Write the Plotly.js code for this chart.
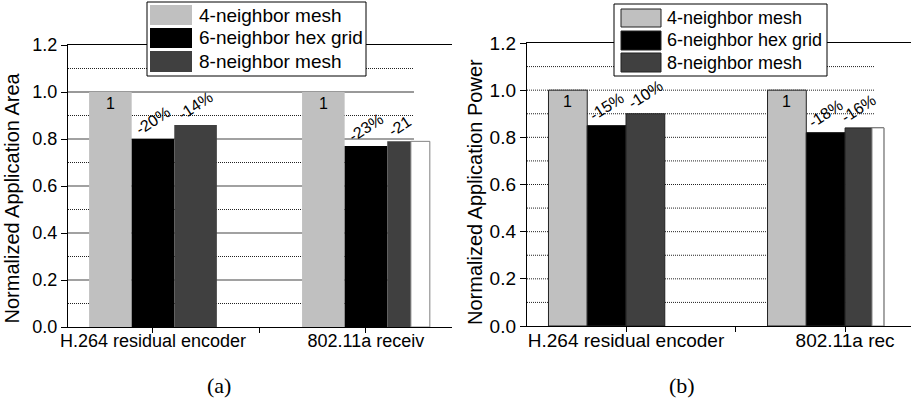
<!DOCTYPE html>
<html><head><meta charset="utf-8">
<script src="https://cdn.plot.ly/plotly-3.0.1.min.js"></script>
<style>html,body{margin:0;padding:0;background:#fff;} #chart{width:914px;height:401px;}</style>
</head><body><div id="chart"></div>
<script>
// ---- data ----
const categories = ['H.264 residual encoder', '802.11a receiver'];
const tickLabelsA = ['H.264 residual encoder', '802.11a receiv'];
const tickLabelsB = ['H.264 residual encoder', '802.11a rec'];
const seriesNames = ['4-neighbor mesh', '6-neighbor hex grid', '8-neighbor mesh'];
const seriesColors = ['#c0c0c0', '#000000', '#404040'];
const areaMesh4 = [1.0, 1.0];
const areaHex6 = [0.80, 0.77];
const areaMesh8 = [0.86, 0.79];
const powerMesh4 = [1.0, 1.0];
const powerHex6 = [0.85, 0.82];
const powerMesh8 = [0.90, 0.84];
const areaLabels4 = ['1', '1'];
const areaLabels6 = ['-20%', '-23%'];
const areaLabels8 = ['-14%', '-21'];
const powerLabels4 = ['1', '1'];
const powerLabels6 = ['-15%', '-18%'];
const powerLabels8 = ['-10%', '-16%'];
const yTickVals = [0, 0.2, 0.4, 0.6, 0.8, 1.0, 1.2];
const majorGrid = [0.2, 0.4, 0.6, 0.8];
const minorGrid = [0.1, 0.3, 0.5, 0.7, 0.9, 1.1];

// ---- layout helpers ----
const W = 914, H = 401;
const px = x => x / W;
const py = y => 1 - y / H;
const SANS = 'Liberation Sans, Arial, sans-serif';
const FINE_DOT = '1px,1px';
const xIdx = categories.map((c, i) => i);

const panels = [
  {xa: 'x', ya: 'y', series: [areaMesh4, areaHex6, areaMesh8], labels: [areaLabels4, areaLabels6, areaLabels8],
   offsets: [-0.3, -0.1, 0.1], width: 0.2, whiteStart: 0.211, line: 0, lineColor: '#000', whiteLine: '#888'},
  {xa: 'x2', ya: 'y2', series: [powerMesh4, powerHex6, powerMesh8], labels: [powerLabels4, powerLabels6, powerLabels8],
   offsets: [-0.354, -0.177, 0.0], width: 0.177, whiteStart: 0.123, line: 1, lineColor: '#222', whiteLine: '#888'}
];

const traces = [];
const annotations = [];
panels.forEach(p => {
  p.series.forEach((vals, s) => {
    traces.push({
      type: 'bar', x: xIdx, y: vals, xaxis: p.xa, yaxis: p.ya, name: seriesNames[s],
      offset: p.offsets[s], width: p.width, showlegend: false, hoverinfo: 'skip',
      marker: {color: seriesColors[s], line: {width: p.line, color: p.lineColor}}
    });
    vals.forEach((v, i) => {
      let cx = i + p.offsets[s] + p.width / 2;
      if (s === 2 && i === 1) cx = i + (p.offsets[s] + p.whiteStart) / 2;
      if (s === 0) {
        annotations.push({xref: p.xa, yref: p.ya, x: cx, y: v, text: p.labels[s][i], showarrow: false,
          xanchor: 'center', yanchor: 'top', yshift: -1, font: {family: SANS, size: 16, color: '#000'}});
      } else {
        annotations.push({xref: p.xa, yref: p.ya, x: cx, y: v, text: p.labels[s][i], showarrow: false,
          xanchor: 'center', yanchor: 'bottom', textangle: -33, yshift: -1, font: {family: SANS, size: 16, color: '#000'}});
      }
    });
  });
  // white overlay segment on the 2nd group's 8-neighbor bar
  const last = p.series[2];
  traces.push({
    type: 'bar', x: [xIdx[1]], y: [last[1]], xaxis: p.xa, yaxis: p.ya, showlegend: false, hoverinfo: 'skip',
    offset: p.whiteStart, width: p.offsets[2] + p.width - p.whiteStart,
    marker: {color: '#ffffff', line: {width: 1, color: p.whiteLine}}
  });
});

// ---- gridlines ----
const shapes = [];
majorGrid.forEach(g => shapes.push({type: 'line', layer: 'below', xref: 'x domain', yref: 'y', x0: 0, x1: 0.901, y0: g, y1: g,
  line: {color: '#444', width: 1.2}}));
shapes.push({type: 'line', layer: 'below', xref: 'x domain', yref: 'y', x0: 0, x1: 0.901, y0: 1.0, y1: 1.0,
  line: {color: '#999', width: 2}});
minorGrid.forEach(g => shapes.push({type: 'line', layer: 'below', xref: 'x domain', yref: 'y', x0: 0, x1: 0.901, y0: g, y1: g,
  line: {color: '#222', width: 1, dash: FINE_DOT}}));
majorGrid.concat([1.0]).concat(minorGrid).forEach(g => shapes.push({type: 'line', layer: 'below', xref: 'x2 domain', yref: 'y2', x0: 0, x1: 0.904, y0: g, y1: g,
  line: {color: '#222', width: 1, dash: FINE_DOT}}));

// ---- custom legends ----
const legends = [
  {box: [147, 2, 366, 76], sx: [150, 192], rows: [[5, 25], [28, 48], [51, 72]], tx: 197, fs: 19, border: 0},
  {box: [614, 4, 827, 76], sx: [621, 661], rows: [[9, 27], [31, 50], [53, 72]], tx: 665, fs: 18, border: 1}
];
legends.forEach(L => {
  shapes.push({type: 'rect', layer: 'above', xref: 'paper', yref: 'paper', x0: px(L.box[0]), x1: px(L.box[2]), y0: py(L.box[3]), y1: py(L.box[1]),
    fillcolor: '#fff', line: {color: '#000', width: 1}});
  L.rows.forEach((r, s) => {
    shapes.push({type: 'rect', layer: 'above', xref: 'paper', yref: 'paper', x0: px(L.sx[0]), x1: px(L.sx[1]), y0: py(r[1]), y1: py(r[0]),
      fillcolor: seriesColors[s], line: {color: '#222', width: L.border}});
    annotations.push({xref: 'paper', yref: 'paper', x: px(L.tx), y: py((r[0] + r[1]) / 2), text: seriesNames[s], showarrow: false,
      xanchor: 'left', yanchor: 'middle', font: {family: SANS, size: L.fs, color: '#000'}});
  });
});

// ---- y titles & captions ----
annotations.push({xref: 'paper', yref: 'paper', x: px(11), y: py(198.5), text: 'Normalized Application Area', textangle: -90,
  showarrow: false, xanchor: 'center', yanchor: 'middle', font: {family: SANS, size: 20, color: '#000'}});
annotations.push({xref: 'paper', yref: 'paper', x: px(475), y: py(192), text: 'Normalized Application Power', textangle: -90,
  showarrow: false, xanchor: 'center', yanchor: 'middle', font: {family: SANS, size: 20, color: '#000'}});
annotations.push({xref: 'paper', yref: 'paper', x: px(219), y: py(385), text: '(a)', showarrow: false,
  xanchor: 'center', yanchor: 'middle', font: {family: 'Liberation Serif, DejaVu Serif, serif', size: 22, color: '#000'}});
annotations.push({xref: 'paper', yref: 'paper', x: px(682), y: py(385), text: '(b)', showarrow: false,
  xanchor: 'center', yanchor: 'middle', font: {family: 'Liberation Serif, DejaVu Serif, serif', size: 22, color: '#000'}});

const yAxisBase = (dom, fs) => ({
  domain: dom, range: [0, 1.2], tickvals: yTickVals, ticktext: yTickVals.map(v => v.toFixed(1)),
  ticks: 'outside', ticklen: 6, tickcolor: '#000', showline: true, linecolor: '#000', linewidth: 1.2,
  showgrid: false, zeroline: false, tickfont: {family: SANS, size: fs, color: '#000'}, fixedrange: true
});
const xAxisBase = (dom, range, labels, fs, anchor) => ({
  domain: dom, range: range, tickvals: [0, 0.5, 1], ticktext: [labels[0], '', labels[1]], anchor: anchor,
  ticks: 'outside', ticklen: 5, tickcolor: '#000', showline: true, mirror: true, linecolor: '#000', linewidth: 1.2,
  showgrid: false, zeroline: false, tickfont: {family: SANS, size: fs, color: '#000'}, fixedrange: true,
  ticklabelposition: 'outside', ticklabelstandoff: -8
});

const layout = {
  width: W, height: H, autosize: false, margin: {l: 0, r: 0, t: 0, b: 0},
  paper_bgcolor: '#fff', plot_bgcolor: '#fff', barmode: 'overlay', showlegend: false,
  xaxis: xAxisBase([px(68), px(452)], [-0.399, 1.404], tickLabelsA, 18, 'y'),
  yaxis: Object.assign(yAxisBase([py(327), py(45)], 18), {anchor: 'x'}),
  xaxis2: xAxisBase([px(527), px(911)], [-0.452, 1.301], tickLabelsB, 19, 'y2'),
  yaxis2: Object.assign(yAxisBase([py(326), py(43)], 19), {anchor: 'x2'}),
  shapes: shapes, annotations: annotations
};
Plotly.newPlot('chart', traces, layout, {displayModeBar: false, staticPlot: true});
</script></body></html>
